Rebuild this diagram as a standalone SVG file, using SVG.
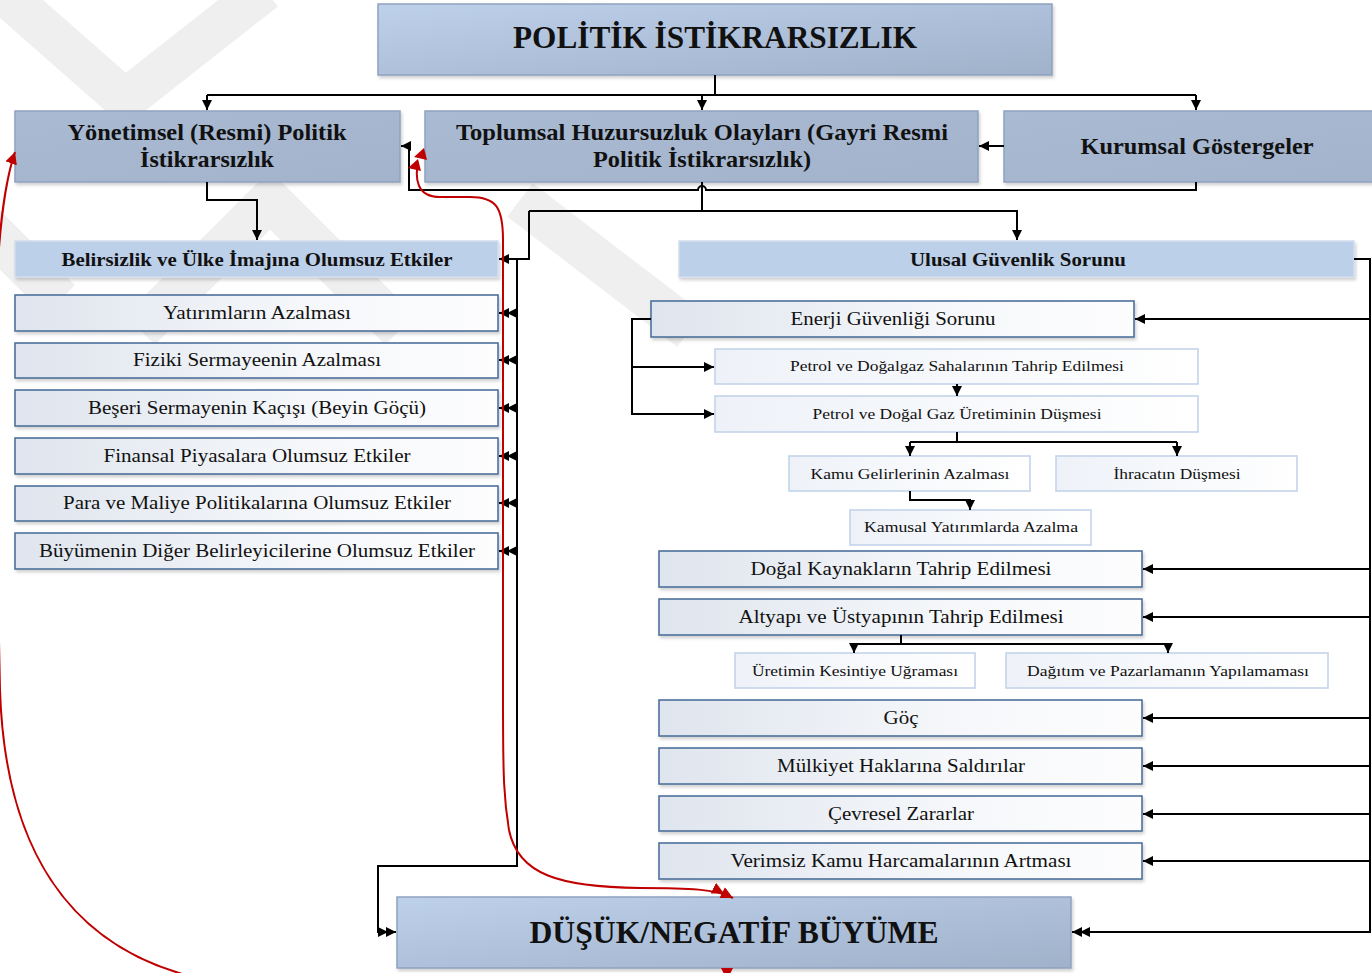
<svg xmlns="http://www.w3.org/2000/svg" width="1372" height="973" viewBox="0 0 1372 973">
<defs>
<linearGradient id="gHead" x1="0" y1="0" x2="1" y2="1">
<stop offset="0" stop-color="#bed1ea"/><stop offset="1" stop-color="#a0b1ca"/>
</linearGradient>
<linearGradient id="gMid" x1="0" y1="0" x2="1" y2="1">
<stop offset="0" stop-color="#a9bad3"/><stop offset="1" stop-color="#a3b3cb"/>
</linearGradient>
<linearGradient id="gItem" x1="0" y1="0" x2="1" y2="0">
<stop offset="0" stop-color="#dfe5ee"/><stop offset="0.6" stop-color="#f5f7fa"/><stop offset="1" stop-color="#fdfdfe"/>
</linearGradient>
<linearGradient id="gSub" x1="0" y1="0" x2="1" y2="0">
<stop offset="0" stop-color="#eef2f8"/><stop offset="1" stop-color="#ffffff"/>
</linearGradient>
<filter id="sh" x="-5%" y="-20%" width="110%" height="150%">
<feDropShadow dx="1.5" dy="2.5" stdDeviation="1.8" flood-color="#000" flood-opacity="0.18"/>
</filter>
<marker id="ah" viewBox="0 0 10 10" refX="10" refY="5" markerWidth="10" markerHeight="10" markerUnits="userSpaceOnUse" orient="auto"><path d="M0,0 L10,5 L0,10 z" fill="#000"/></marker>
<marker id="ah2" viewBox="0 0 18 10" refX="18" refY="5" markerWidth="18" markerHeight="10" markerUnits="userSpaceOnUse" orient="auto"><path d="M0,0 L10,5 L0,10 z M8,0 L18,5 L8,10 z" fill="#000"/></marker>
<marker id="rh2" viewBox="0 0 22 12" refX="22" refY="6" markerWidth="22" markerHeight="12" markerUnits="userSpaceOnUse" orient="auto"><path d="M0,0 L12,6 L0,12 z M10,0 L22,6 L10,12 z" fill="#c00000"/></marker>
<marker id="rh" viewBox="0 0 12 12" refX="12" refY="6" markerWidth="12" markerHeight="12" markerUnits="userSpaceOnUse" orient="auto"><path d="M0,0 L12,6 L0,12 z" fill="#c00000"/></marker>
<marker id="rs" viewBox="0 0 12 12" refX="0" refY="6" markerWidth="12" markerHeight="12" markerUnits="userSpaceOnUse" orient="auto"><path d="M0,0 L12,6 L0,12 z" fill="#c00000"/></marker>
</defs>
<style>
.head{fill:url(#gHead);stroke:#8ea2c0;stroke-width:1.5;filter:url(#sh)}
.mid{fill:url(#gMid);stroke:#8ea2c0;stroke-width:1.5;filter:url(#sh)}
.band{fill:#bdd0ea;stroke:#d3dded;stroke-width:1.5;filter:url(#sh)}
.item{fill:url(#gItem);stroke:#4d709c;stroke-width:1.6;filter:url(#sh)}
.sub{fill:url(#gSub);stroke:#c3d4ea;stroke-width:1.6}
text{font-family:"Liberation Serif","Times New Roman",serif;fill:#111;text-anchor:middle}
.tb{font-weight:bold}
.c{fill:none;stroke:#000;stroke-width:2}
.r{fill:none;stroke:#c00000;stroke-width:2}
.ra{fill:#c00000}
.wm{fill:none;stroke:#efefef;stroke-width:42}
</style>
<rect width="1372" height="973" fill="#fff"/>
<g id="watermark">
<polyline class="wm" points="0,-10 125,100 265,-10"/>
<polyline class="wm" points="-40,200 60,300"/>
<polyline class="wm" points="140,330 270,200 400,330"/>
<polyline class="wm" points="520,200 690,330"/>
</g>

<g id="n-top"><rect class="head" x="378" y="4" width="674" height="71"/><text class="tb" x="715" y="48" font-size="32" textLength="404" lengthAdjust="spacingAndGlyphs">POLİTİK İSTİKRARSIZLIK</text></g>
<g id="n-yonetimsel"><rect class="mid" x="15" y="111" width="385" height="71"/><text class="tb" x="207" y="140" font-size="23" textLength="279" lengthAdjust="spacingAndGlyphs">Yönetimsel (Resmi) Politik</text><text class="tb" x="207" y="167" font-size="23" textLength="134" lengthAdjust="spacingAndGlyphs">İstikrarsızlık</text></g>
<g id="n-toplumsal"><rect class="mid" x="425" y="111" width="553" height="71"/><text class="tb" x="702" y="140" font-size="23" textLength="492" lengthAdjust="spacingAndGlyphs">Toplumsal Huzursuzluk Olayları (Gayri Resmi</text><text class="tb" x="702" y="167" font-size="23" textLength="218" lengthAdjust="spacingAndGlyphs">Politik İstikrarsızlık)</text></g>
<g id="n-kurumsal"><rect class="mid" x="1004" y="111" width="380" height="71"/><text class="tb" x="1197" y="154" font-size="24" textLength="233" lengthAdjust="spacingAndGlyphs">Kurumsal Göstergeler</text></g>

<g id="n-belirsizlik"><rect class="band" x="15" y="241" width="483" height="36"/><text class="tb" x="257" y="266" font-size="19" textLength="391" lengthAdjust="spacingAndGlyphs">Belirsizlik ve Ülke İmajına Olumsuz Etkiler</text></g>
<g id="n-ulusal"><rect class="band" x="679" y="241" width="675" height="36"/><text class="tb" x="1018" y="266" font-size="19" textLength="216" lengthAdjust="spacingAndGlyphs">Ulusal Güvenlik Sorunu</text></g>

<g id="n-l1"><rect class="item" x="15" y="295" width="483" height="36"/><text x="257" y="319" font-size="19" textLength="188" lengthAdjust="spacingAndGlyphs">Yatırımların Azalması</text></g>
<g id="n-l2"><rect class="item" x="15" y="343" width="483" height="35"/><text x="257" y="366" font-size="19" textLength="248" lengthAdjust="spacingAndGlyphs">Fiziki Sermayeenin Azalması</text></g>
<g id="n-l3"><rect class="item" x="15" y="390" width="483" height="36"/><text x="257" y="414" font-size="19" textLength="338" lengthAdjust="spacingAndGlyphs">Beşeri Sermayenin Kaçışı (Beyin Göçü)</text></g>
<g id="n-l4"><rect class="item" x="15" y="438" width="483" height="36"/><text x="257" y="462" font-size="19" textLength="307" lengthAdjust="spacingAndGlyphs">Finansal Piyasalara Olumsuz Etkiler</text></g>
<g id="n-l5"><rect class="item" x="15" y="486" width="483" height="35"/><text x="257" y="509" font-size="19" textLength="388" lengthAdjust="spacingAndGlyphs">Para ve Maliye Politikalarına Olumsuz Etkiler</text></g>
<g id="n-l6"><rect class="item" x="15" y="533" width="483" height="36"/><text x="257" y="557" font-size="19" textLength="436" lengthAdjust="spacingAndGlyphs">Büyümenin Diğer Belirleyicilerine Olumsuz Etkiler</text></g>

<g id="n-enerji"><rect class="item" x="651" y="301" width="483" height="36"/><text x="893" y="325" font-size="19" textLength="205" lengthAdjust="spacingAndGlyphs">Enerji Güvenliği Sorunu</text></g>
<g id="n-petrol1"><rect class="sub" x="715" y="349" width="483" height="35"/><text x="957" y="371" font-size="15" textLength="334" lengthAdjust="spacingAndGlyphs">Petrol ve Doğalgaz Sahalarının Tahrip Edilmesi</text></g>
<g id="n-petrol2"><rect class="sub" x="715" y="396" width="483" height="36"/><text x="957" y="419" font-size="15" textLength="289" lengthAdjust="spacingAndGlyphs">Petrol ve Doğal Gaz Üretiminin Düşmesi</text></g>
<g id="n-kamu"><rect class="sub" x="789" y="456" width="241" height="35"/><text x="910" y="479" font-size="15" textLength="199" lengthAdjust="spacingAndGlyphs">Kamu Gelirlerinin Azalması</text></g>
<g id="n-ihracat"><rect class="sub" x="1056" y="456" width="241" height="35"/><text x="1177" y="479" font-size="15" textLength="127" lengthAdjust="spacingAndGlyphs">İhracatın Düşmesi</text></g>
<g id="n-kamusal"><rect class="sub" x="850" y="510" width="241" height="35"/><text x="971" y="532" font-size="15" textLength="214" lengthAdjust="spacingAndGlyphs">Kamusal Yatırımlarda Azalma</text></g>
<g id="n-dogal"><rect class="item" x="659" y="551" width="483" height="36"/><text x="901" y="575" font-size="19" textLength="301" lengthAdjust="spacingAndGlyphs">Doğal Kaynakların Tahrip Edilmesi</text></g>
<g id="n-altyapi"><rect class="item" x="659" y="599" width="483" height="36"/><text x="901" y="623" font-size="19" textLength="325" lengthAdjust="spacingAndGlyphs">Altyapı ve Üstyapının Tahrip Edilmesi</text></g>
<g id="n-uretim"><rect class="sub" x="735" y="653" width="240" height="35"/><text x="855" y="676" font-size="15" textLength="206" lengthAdjust="spacingAndGlyphs">Üretimin Kesintiye Uğraması</text></g>
<g id="n-dagitim"><rect class="sub" x="1006" y="653" width="322" height="35"/><text x="1168" y="676" font-size="15" textLength="282" lengthAdjust="spacingAndGlyphs">Dağıtım ve Pazarlamanın Yapılamaması</text></g>
<g id="n-goc"><rect class="item" x="659" y="700" width="483" height="36"/><text x="901" y="724" font-size="19" textLength="35" lengthAdjust="spacingAndGlyphs">Göç</text></g>
<g id="n-mulkiyet"><rect class="item" x="659" y="748" width="483" height="36"/><text x="901" y="772" font-size="19" textLength="248" lengthAdjust="spacingAndGlyphs">Mülkiyet Haklarına Saldırılar</text></g>
<g id="n-cevresel"><rect class="item" x="659" y="796" width="483" height="35"/><text x="901" y="820" font-size="19" textLength="146" lengthAdjust="spacingAndGlyphs">Çevresel Zararlar</text></g>
<g id="n-verimsiz"><rect class="item" x="659" y="843" width="483" height="36"/><text x="901" y="867" font-size="19" textLength="341" lengthAdjust="spacingAndGlyphs">Verimsiz Kamu Harcamalarının Artması</text></g>

<g id="n-dusuk"><rect class="head" x="397" y="897" width="674" height="71"/><text class="tb" x="734" y="943" font-size="32" textLength="409" lengthAdjust="spacingAndGlyphs">DÜŞÜK/NEGATİF BÜYÜME</text></g>

<g id="connectors">
<path class="c" d="M715 75 V95"/>
<path class="c" d="M207 95 H1196"/>
<path class="c" d="M207 95 V110" marker-end="url(#ah)"/>
<path class="c" d="M702 95 V110" marker-end="url(#ah)"/>
<path class="c" d="M1196 95 V110" marker-end="url(#ah)"/>
<path class="c" d="M1004 146 H979" marker-end="url(#ah)"/>
<path class="c" d="M1196 182 V190 H706 A4 4 0 0 0 698 190 H409 V146 H401" marker-end="url(#ah)"/>
<path class="c" d="M702 182 V211"/>
<path class="c" d="M529 211 H1017 V240" marker-end="url(#ah)"/>
<path class="c" d="M529 211 V259 H499" marker-end="url(#ah)"/>
<path class="c" d="M207 182 V200 H257 V240" marker-end="url(#ah)"/>
<path class="c" d="M517 259 V866 H378 V932 H396" marker-end="url(#ah2)"/>
<path class="c" d="M517 313 H499" marker-end="url(#ah2)"/>
<path class="c" d="M517 360 H499" marker-end="url(#ah2)"/>
<path class="c" d="M517 408 H499" marker-end="url(#ah2)"/>
<path class="c" d="M517 456 H499" marker-end="url(#ah2)"/>
<path class="c" d="M517 503 H499" marker-end="url(#ah2)"/>
<path class="c" d="M517 551 H499" marker-end="url(#ah2)"/>
<path class="c" d="M1354 259 H1370 V932 H1072" marker-end="url(#ah2)"/>
<path class="c" d="M1370 319 H1135" marker-end="url(#ah)"/>
<path class="c" d="M1370 569 H1143" marker-end="url(#ah)"/>
<path class="c" d="M1370 617 H1143" marker-end="url(#ah)"/>
<path class="c" d="M1370 718 H1143" marker-end="url(#ah)"/>
<path class="c" d="M1370 766 H1143" marker-end="url(#ah)"/>
<path class="c" d="M1370 814 H1143" marker-end="url(#ah)"/>
<path class="c" d="M1370 861 H1143" marker-end="url(#ah)"/>
<path class="c" d="M651 319 H632 V414 H714" marker-end="url(#ah)"/>
<path class="c" d="M632 367 H714" marker-end="url(#ah)"/>
<path class="c" d="M957 384 V396" marker-end="url(#ah)"/>
<path class="c" d="M957 432 V442"/>
<path class="c" d="M910 442 H1177"/>
<path class="c" d="M910 442 V456" marker-end="url(#ah)"/>
<path class="c" d="M1177 442 V456" marker-end="url(#ah)"/>
<path class="c" d="M910 491 V500 H970 V510" marker-end="url(#ah)"/>
<path class="c" d="M901 635 V644"/>
<path class="c" d="M854 644 H1168"/>
<path class="c" d="M854 644 V653" marker-end="url(#ah)"/>
<path class="c" d="M1168 644 V653" marker-end="url(#ah)"/>
<path class="r" d="M418 162 C 415 178, 416 197, 440 197 L 470 197 C 496 197, 503 207, 503 240 L 503 700 C 503 780, 504 800, 509 830 C 518 875, 560 887, 640 888 C 690 888, 715 889, 733 898" marker-end="url(#rh2)"/>
<polygon class="ra" points="424,148 427,160 414,157"/>
<polygon class="ra" points="418,159 421,171 408,168"/>
<path class="r" d="M727 968 C 727 1030, 300 1010, 179 973 C 70 940, 5 850, 0 690 L -6 400 C -6 260, 2 190, 15 152" marker-start="url(#rs)" marker-end="url(#rh)"/>
</g>
</svg>
